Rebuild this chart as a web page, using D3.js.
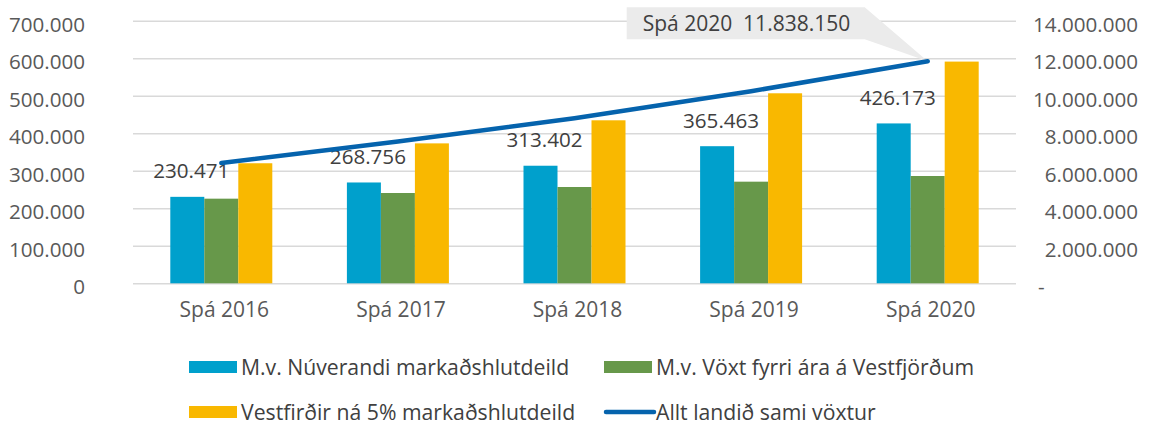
<!DOCTYPE html>
<html>
<head>
<meta charset="utf-8">
<script src="https://cdn.jsdelivr.net/npm/d3@7"></script>
<style>
  body { margin: 0; background: #fff; }
  svg text { font-family: 'Open Sans', 'Noto Sans', sans-serif; }
</style>
</head>
<body>
<div id="chart"></div>
<script>
// data
let categories = ['Spá 2016', 'Spá 2017', 'Spá 2018', 'Spá 2019', 'Spá 2020'];
let seriesNames = ['M.v. Núverandi markaðshlutdeild', 'M.v. Vöxt fyrri ára á Vestfjörðum', 'Vestfirðir ná 5% markaðshlutdeild'];
let nuverandi = [230471, 268756, 313402, 365463, 426173];
let voxtFyrri = [225600, 240700, 256700, 270900, 286000];
let fimmProsent = [320000, 373000, 434500, 506500, 591000];
let lineName = 'Allt landið sami vöxtur';
let alltLandid = [6410000, 7560000, 8800000, 10240000, 11838150];
let leftTicks = [0, 100000, 200000, 300000, 400000, 500000, 600000, 700000];
let rightTicks = [0, 2000000, 4000000, 6000000, 8000000, 10000000, 12000000, 14000000];
let calloutLabel = 'Spá 2020';

let colors = ['#00A0CC', '#67984A', '#F9B800'];
let lineColor = '#0563AD';
let W = 1151, H = 428;
let plot = { left: 133, right: 1016, top: 20.7, bottom: 283.3 };

let isl = d3.formatLocale({ decimal: ',', thousands: '.', grouping: [3], currency: ['', ''] });
let fmt = isl.format(',');

let svg = d3.select('#chart').append('svg').attr('width', W).attr('height', H);

let x = d3.scaleBand().domain(categories).range([plot.left, plot.right]);
let xInner = d3.scaleBand().domain(seriesNames).range([0, 102]);
let innerOffset = (x.bandwidth() - 102) / 2;
let y = d3.scaleLinear().domain([0, 700000]).range([plot.bottom, plot.top]);
let y2 = d3.scaleLinear().domain([0, 14000000]).range([plot.bottom, plot.top]);

// gridlines
svg.append('g')
   .attr('class', 'grid')
   .attr('transform', `translate(${plot.left},0)`)
   .call(d3.axisLeft(y).tickValues(leftTicks).tickSize(-(plot.right - plot.left)).tickFormat(''))
   .call(g => g.select('.domain').remove())
   .selectAll('line')
   .attr('stroke', '#d9d9d9')
   .attr('stroke-width', 1.5);

// left axis labels
svg.append('g')
   .attr('transform', `translate(${plot.left},0)`)
   .call(d3.axisLeft(y).tickValues(leftTicks).tickSize(0).tickPadding(48).tickFormat(fmt))
   .call(g => g.select('.domain').remove())
   .selectAll('text')
   .attr('dy', '0.5em')
   .attr('fill', '#595959')
   .style('font-size', '20.6px');

// right axis labels
let rightAxis = svg.append('g')
   .attr('transform', `translate(${plot.right},0)`)
   .call(d3.axisRight(y2).tickValues(rightTicks).tickSize(0).tickPadding(122).tickFormat(v => v === 0 ? '-' : fmt(v)))
   .call(g => g.select('.domain').remove());
rightAxis.selectAll('text')
   .attr('text-anchor', v => v === 0 ? 'start' : 'end')
   .attr('x', v => v === 0 ? 22 : 122)
   .attr('dy', '0.5em')
   .attr('fill', '#595959')
   .style('font-size', '20.6px');

// category labels
svg.append('g')
   .attr('transform', `translate(0,${plot.bottom})`)
   .call(d3.axisBottom(x).tickSize(0).tickPadding(19))
   .call(g => g.select('.domain').remove())
   .selectAll('text')
   .attr('fill', '#595959')
   .attr('dx', 3)
   .style('font-size', '21px');

// bars
let allSeries = [nuverandi, voxtFyrri, fimmProsent];
let groups = svg.append('g').selectAll('g')
   .data(categories)
   .enter()
   .append('g')
   .attr('transform', c => `translate(${x(c) + innerOffset},0)`);

groups.selectAll('rect')
   .data((c, i) => seriesNames.map((s, j) => ({ s: s, j: j, v: allSeries[j][i] })))
   .enter()
   .append('rect')
   .attr('x', d => xInner(d.s))
   .attr('width', xInner.bandwidth())
   .attr('y', d => y(d.v))
   .attr('height', d => y(0) - y(d.v))
   .attr('fill', d => colors[d.j]);

// data labels on first series
svg.append('g').selectAll('text')
   .data(categories)
   .enter()
   .append('text')
   .attr('x', (c, i) => x(c) + innerOffset + xInner(seriesNames[0]) + xInner.bandwidth() / 2 + 4)
   .attr('y', (c, i) => y(nuverandi[i]) - 18.5)
   .attr('text-anchor', 'middle')
   .attr('fill', '#404040')
   .style('font-size', '20.6px')
   .text((c, i) => fmt(nuverandi[i]));

// line
let line = d3.line()
   .x((v, i) => x(categories[i]) + x.bandwidth() / 2)
   .y(v => y2(v));

svg.append('path')
   .datum(alltLandid)
   .attr('d', line)
   .attr('fill', 'none')
   .attr('stroke', lineColor)
   .attr('stroke-width', 4.5)
   .attr('stroke-linecap', 'round');

// callout for last point
let last = alltLandid.length - 1;
let tipX = x(categories[last]) + x.bandwidth() / 2;
let tipY = y2(alltLandid[last]);
let box = { l: tipX - 301, r: tipX - 63, t: tipY - 54, b: tipY - 22 };
svg.insert('path', 'path')
   .attr('d', `M${box.l},${box.t} L${box.r},${box.t} L${tipX},${tipY} L${box.r},${box.b} L${box.l},${box.b} Z`)
   .attr('fill', '#ebebeb');
svg.append('text')
   .attr('x', box.l + 16)
   .attr('y', box.b - 8)
   .attr('fill', '#404040')
   .style('font-size', '21px')
   .style('white-space', 'pre')
   .text(`${calloutLabel}  ${fmt(alltLandid[last])}`);

// legend
let legendItems = [
  { name: seriesNames[0], color: colors[0], type: 'rect', x: 189, y: 367 },
  { name: seriesNames[1], color: colors[1], type: 'rect', x: 604, y: 367 },
  { name: seriesNames[2], color: colors[2], type: 'rect', x: 189, y: 412 },
  { name: lineName, color: lineColor, type: 'line', x: 604, y: 412 }
];
let legend = svg.append('g').selectAll('g')
   .data(legendItems)
   .enter()
   .append('g')
   .attr('transform', d => `translate(${d.x},${d.y})`);

legend.filter(d => d.type === 'rect')
   .append('rect')
   .attr('x', 0).attr('y', -6).attr('width', 48).attr('height', 12)
   .attr('fill', d => d.color);
legend.filter(d => d.type === 'line')
   .append('line')
   .attr('x1', 2).attr('x2', 50).attr('y1', 0).attr('y2', 0)
   .attr('stroke', d => d.color)
   .attr('stroke-width', 4.5)
   .attr('stroke-linecap', 'round');
legend.append('text')
   .attr('x', 52)
   .attr('y', 0)
   .attr('dy', '0.36em')
   .attr('fill', '#404040')
   .style('font-size', '21.2px')
   .text(d => d.name);
</script>
</body>
</html>
